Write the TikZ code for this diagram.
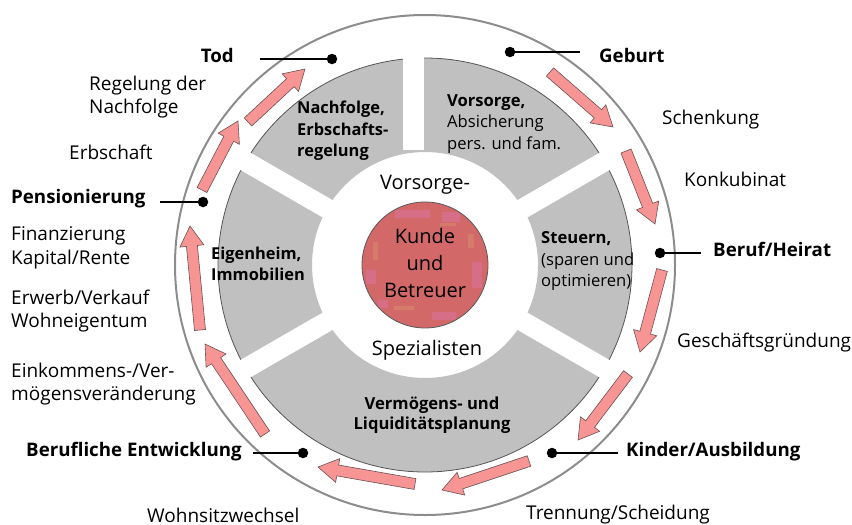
\documentclass[tikz,border=0pt]{standalone}
\usepackage{fontspec}
\setmainfont{Open Sans}
\usetikzlibrary{calc}
\definecolor{ringgray}{HTML}{C0C0C0}
\definecolor{ringedge}{HTML}{555555}
\definecolor{outergray}{HTML}{8C8C8C}
\definecolor{arrowpink}{HTML}{F79595}
\definecolor{arrowedge}{HTML}{6E5050}
\definecolor{coredisk}{HTML}{D26868}
\definecolor{corepink}{HTML}{D873A0}
\definecolor{coreorange}{HTML}{D88C6C}
\newcommand\pinkarrow[2]{%
  \coordinate (hb) at ($(#2)!20pt!(#1)$);
  \draw[blockarrow] ($(#1)!5.5pt!90:(#2)$) -- ($(hb)!5.5pt!90:(#2)$) -- ($(hb)!12pt!90:(#2)$) -- (#2)
     -- ($(hb)!12pt!-90:(#2)$) -- ($(hb)!5.5pt!-90:(#2)$) -- ($(#1)!5.5pt!-90:(#2)$) -- cycle;}
\tikzset{
  blockarrow/.style={fill=arrowpink, draw=arrowedge, line width=0.6pt, line join=miter},
  dotnode/.style={circle, fill=black, inner sep=0pt, minimum size=10.5pt},
  markline/.style={line width=2.8pt, black},
  evlabel/.style={inner sep=0pt, font=\fontsize{19}{23.5}\selectfont, align=left},
  evbold/.style={inner sep=0pt, font=\bfseries\fontsize{18.7}{23.5}\selectfont, align=left},
  segtext/.style={inner sep=0pt, font=\fontsize{16.6}{21.5}\selectfont, align=left},
  segbold/.style={inner sep=0pt, font=\bfseries\fontsize{16.4}{21.5}\selectfont, align=left},
  coretext/.style={inner sep=0pt, font=\fontsize{20}{27}\selectfont, align=center},
  mottle/.style={opacity=0.55}
}
\begin{document}
\begin{tikzpicture}[x=1pt, y=-1pt]
\useasboundingbox (0,0) rectangle (852,525);
\coordinate (C) at (425,265);
% outer circle
\draw[outergray, line width=2pt] (C) circle[radius=250pt];
% gray ring
\fill[ringgray, even odd rule] (C) circle[radius=207pt] (C) circle[radius=113pt];
\draw[ringedge, line width=0.8pt] (C) circle[radius=207pt];
\foreach \a in {-30,30,150,210} \draw[white, line width=20pt] (C) -- ++(\a:215pt);
\coordinate (gt1) at (413,150);
\coordinate (gt2) at (413,45);
\draw[white, line width=21pt] (gt1) -- (gt2);
% core disk
\node[circle, fill=coredisk, minimum size=126pt, inner sep=0pt] (core) at (C) {};
\begin{scope}[mottle]
  \clip (C) circle[radius=62pt];
  \fill[corepink] (395,210) rectangle (430,218);
  \fill[corepink] (442,212) rectangle (460,222);
  \fill[coreorange] (373,242) rectangle (378,260);
  \fill[corepink] (366,270) rectangle (376,284);
  \fill[coreorange] (468,234) rectangle (474,248);
  \fill[corepink] (472,262) rectangle (482,288);
  \fill[coreorange] (394,306) rectangle (414,310);
  \fill[corepink] (432,312) rectangle (456,320);
  \fill[coreorange] (440,223) rectangle (456,226);
  \fill[corepink] (378,300) rectangle (388,308);
\end{scope}
\draw[black!65, line width=0.8pt] (C) circle[radius=63pt];
\node[coretext] (kunde) at (425,263) {Kunde\\und\\Betreuer};
\node[coretext] (vorsorgespez) at (425,185) {Vorsorge-};
\node[coretext] (spez) at (427,350) {Spezialisten};
% segment texts
\node[segbold, anchor=west] (nachfolge) at (297,131) {Nachfolge,\\Erbschafts-\\regelung};
\node[segtext, anchor=west] (vorsorge) at (447,124) {\textbf{Vorsorge,}\\Absicherung\\pers. und fam.};
\node[segtext, anchor=west] (steuern) at (541,261) {\textbf{Steuern,}\\(sparen und\\optimieren)};
\node[segbold, anchor=west] (eigenheim) at (211,264) {Eigenheim,\\Immobilien};
\node[segbold, align=center, font=\bfseries\fontsize{16.6}{20.5}\selectfont] (vermoegen) at (432,415) {Vermögens- und\\Liquiditätsplanung};
% arrows
\coordinate (a1) at (550,72);  \coordinate (a2) at (613,127);
\coordinate (b1) at (626,151); \coordinate (b2) at (655,224);
\coordinate (c1) at (662,270); \coordinate (c2) at (640,352);
\coordinate (d1) at (628,374); \coordinate (d2) at (578,440);
\coordinate (e1) at (529,461); \coordinate (e2) at (442,490);
\coordinate (f1) at (415,484); \coordinate (f2) at (318,467);
\coordinate (g1) at (265,434); \coordinate (g2) at (205,344);
\coordinate (h1) at (200,330); \coordinate (h2) at (190,226);
\coordinate (i1) at (202,190); \coordinate (i2) at (238,121);
\coordinate (j1) at (248,122); \coordinate (j2) at (305,69);
\pinkarrow{a1}{a2}
\pinkarrow{b1}{b2}
\pinkarrow{c1}{c2}
\pinkarrow{d1}{d2}
\pinkarrow{e1}{e2}
\pinkarrow{f1}{f2}
\pinkarrow{g1}{g2}
\pinkarrow{h1}{h2}
\pinkarrow{i1}{i2}
\pinkarrow{j1}{j2}
% markers
\node[dotnode] (toddot) at (332,59) {};
\coordinate (todend) at (260,59);
\draw[markline] (todend) -- (toddot);
\node[dotnode] (geburtdot) at (510,52) {};
\coordinate (geburtend) at (580,52);
\draw[markline] (geburtdot) -- (geburtend);
\node[dotnode] (heiratdot) at (660,253) {};
\coordinate (heiratend) at (701,253);
\draw[markline] (heiratdot) -- (heiratend);
\node[dotnode] (kinderdot) at (552,453) {};
\coordinate (kinderend) at (618,453);
\draw[markline] (kinderdot) -- (kinderend);
\node[dotnode] (berufdot) at (303,453) {};
\coordinate (berufend) at (253,453);
\draw[markline] (berufend) -- (berufdot);
\node[dotnode] (pensdot) at (203,202) {};
\coordinate (pensend) at (160,202);
\draw[markline] (pensend) -- (pensdot);
% labels
\node[evbold, anchor=east] (tod) at (234,55) {Tod};
\node[evlabel, anchor=west] (regelung) at (89,97) {Regelung der\\Nachfolge};
\node[evlabel, anchor=west] (erbschaft) at (69,152) {Erbschaft};
\node[evbold, anchor=west] (pension) at (11,199) {Pensionierung};
\node[evlabel, anchor=west] (finanz) at (11,248) {Finanzierung\\Kapital/Rente};
\node[evlabel, anchor=west] (erwerb) at (11,311) {Erwerb/Verkauf\\Wohneigentum};
\node[evlabel, anchor=west] (einkommen) at (11,384) {Einkommens-/Ver-\\mögensveränderung};
\node[evbold, anchor=west] (beruflich) at (26,452) {Berufliche Entwicklung};
\node[evlabel, anchor=west] (wohnsitz) at (147,515) {Wohnsitzwechsel};
\node[evlabel, anchor=west] (trennung) at (526,515) {Trennung/Scheidung};
\node[evbold, anchor=west] (kinder) at (626,452) {Kinder/Ausbildung};
\node[evlabel, anchor=west] (geschaeft) at (677,343) {Geschäftsgründung};
\node[evbold, anchor=west] (heirat) at (713,249) {Beruf/Heirat};
\node[evlabel, anchor=west] (konkubinat) at (684,179) {Konkubinat};
\node[evlabel, anchor=west] (schenkung) at (662,120) {Schenkung};
\node[evbold, anchor=west] (geburt) at (599,55) {Geburt};
\end{tikzpicture}
\end{document}
